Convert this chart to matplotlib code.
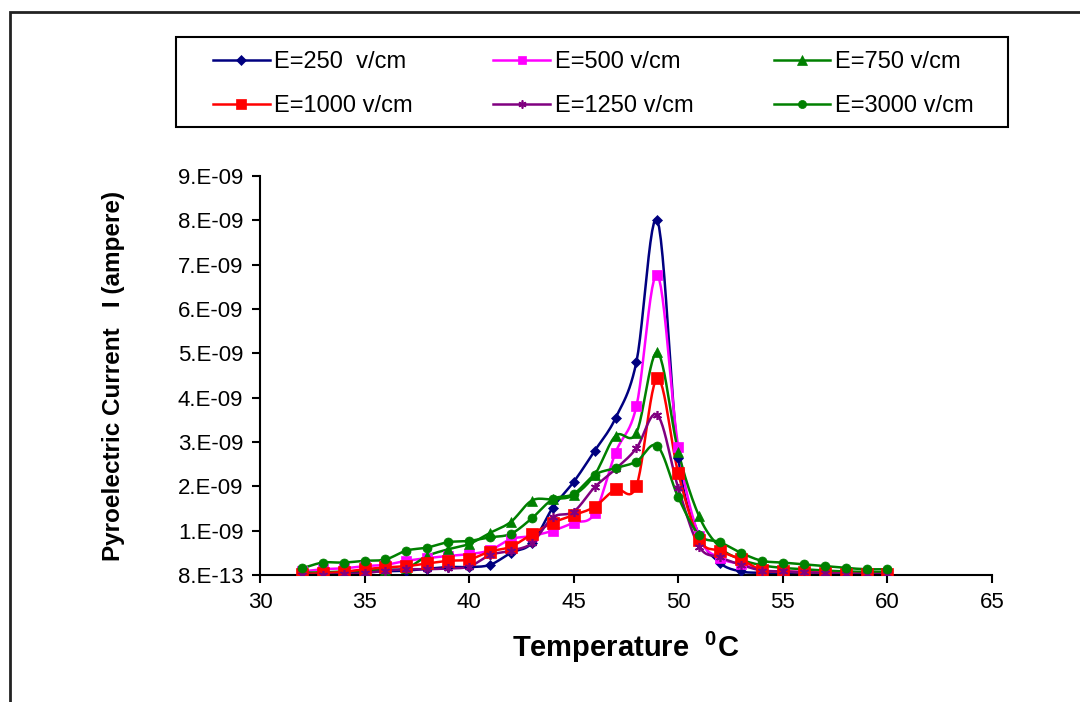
import numpy as np
import matplotlib
matplotlib.use("Agg")
import matplotlib.pyplot as plt
from matplotlib.patches import Rectangle
from matplotlib.lines import Line2D
from matplotlib.ticker import FuncFormatter, FixedLocator

plt.rcParams['font.family'] = ['Liberation Sans', 'DejaVu Sans']
plt.rcParams['mathtext.fontset'] = 'custom'
plt.rcParams['mathtext.rm'] = 'Liberation Sans'
plt.rcParams['mathtext.bf'] = 'Liberation Sans:bold'

temperature = list(range(32, 61))
labels = ["E=250  v/cm", "E=500 v/cm", "E=750 v/cm",
          "E=1000 v/cm", "E=1250 v/cm", "E=3000 v/cm"]

# currents in units of 1e-9 A
e250 = [0.02, 0.03, 0.04, 0.07, 0.08, 0.10, 0.14, 0.18, 0.18, 0.23, 0.50, 0.72, 1.52, 2.10,
        2.80, 3.54, 4.81, 8.00, 2.65, 0.90, 0.27, 0.08, 0.05, 0.04, 0.03, 0.03, 0.02, 0.02, 0.02]
e500 = [0.08, 0.13, 0.15, 0.20, 0.23, 0.32, 0.38, 0.43, 0.47, 0.56, 0.81, 0.88, 1.00, 1.18,
        1.39, 2.76, 3.81, 6.77, 2.88, 0.87, 0.38, 0.25, 0.11, 0.08, 0.07, 0.05, 0.04, 0.03, 0.02]
e750 = [0.05, 0.06, 0.08, 0.10, 0.12, 0.15, 0.43, 0.58, 0.70, 0.95, 1.20, 1.68, 1.71, 1.80,
        2.26, 3.14, 3.21, 5.02, 2.78, 1.32, 0.62, 0.35, 0.22, 0.16, 0.13, 0.10, 0.08, 0.07, 0.06]
e1000 = [0.02, 0.04, 0.07, 0.13, 0.17, 0.20, 0.26, 0.32, 0.35, 0.53, 0.64, 0.92, 1.18, 1.35,
         1.54, 1.93, 2.01, 4.44, 2.29, 0.80, 0.54, 0.35, 0.11, 0.08, 0.06, 0.05, 0.03, 0.02, 0.02]
e1250 = [0.00, 0.00, 0.02, 0.04, 0.10, 0.13, 0.13, 0.15, 0.19, 0.45, 0.55, 0.72, 1.30, 1.43,
         1.98, 2.39, 2.86, 3.61, 1.96, 0.64, 0.40, 0.23, 0.10, 0.08, 0.06, 0.04, 0.03, 0.02, 0.02]
e3000 = [0.15, 0.28, 0.28, 0.32, 0.35, 0.55, 0.62, 0.74, 0.77, 0.85, 0.93, 1.28, 1.71, 1.83,
         2.26, 2.41, 2.56, 2.91, 1.75, 0.90, 0.74, 0.50, 0.32, 0.28, 0.24, 0.20, 0.16, 0.13, 0.13]

series = [e250, e500, e750, e1000, e1250, e3000]
colors = ["#000080", "#FF00FF", "#008000", "#FF0000", "#800080", "#008000"]
markers = ["D", "s", "^", "s", (6, 2, 0), "o"]
msizes = [5.5, 6.5, 7.5, 8.5, 6.5, 6.5]

BASE = 8e-13


def smooth(x, y, n=12):
    """Catmull-Rom curve through the points (drawing style only)."""
    x = np.asarray(x, float)
    y = np.asarray(y, float)
    px = np.concatenate([[2 * x[0] - x[1]], x, [2 * x[-1] - x[-2]]])
    py = np.concatenate([[2 * y[0] - y[1]], y, [2 * y[-1] - y[-2]]])
    xs, ys = [], []
    t = np.linspace(0, 1, n, endpoint=False)
    for i in range(1, len(px) - 2):
        for arr, out in ((px, xs), (py, ys)):
            p0, p1, p2, p3 = arr[i - 1], arr[i], arr[i + 1], arr[i + 2]
            out.extend(0.5 * ((2 * p1) + (-p0 + p2) * t +
                              (2 * p0 - 5 * p1 + 4 * p2 - p3) * t ** 2 +
                              (-p0 + 3 * p1 - 3 * p2 + p3) * t ** 3))
    xs.append(x[-1])
    ys.append(y[-1])
    return np.array(xs), np.array(ys)


W, H = 1080, 702
fig = plt.figure(figsize=(W / 100, H / 100), dpi=100)

# outer chart border (extends past right/bottom edges)
fig.patches.append(Rectangle((10 / W, -0.1), 1.2, 1 - 12 / H + 0.1,
                             transform=fig.transFigure, fill=False,
                             edgecolor="#222222", linewidth=2.0))

ax = fig.add_axes([260 / W, 1 - 575 / H, (992 - 260) / W, (575 - 176) / H])

handles = []
for vals, c, m, ms, lab in zip(series, colors, markers, msizes, labels):
    yv = np.array(vals) * 1e-9 + BASE
    sx, sy = smooth(temperature, yv)
    ax.plot(sx, sy, color=c, lw=1.8, zorder=2)
    ax.plot(temperature, yv, linestyle="none", marker=m, color=c,
            markersize=ms, markeredgewidth=1.2 if m == (6, 2, 0) else 0.5,
            zorder=3)
    handles.append(Line2D([], [], color=c, lw=1.8, marker=m,
                          markersize=ms * 0.9,
                          markeredgewidth=1.2 if m == (6, 2, 0) else 0.5,
                          label=lab))

ax.set_xlim(30, 65)
ax.set_ylim(BASE, 9e-9 + BASE)
ax.xaxis.set_major_locator(FixedLocator(np.arange(30, 66, 5)))
ax.yaxis.set_major_locator(FixedLocator([BASE + k * 1e-9 for k in range(10)]))
ax.yaxis.set_major_formatter(FuncFormatter(lambda v, p: "{:#.0E}".format(v)))

for s in ("top", "right"):
    ax.spines[s].set_visible(False)
for s in ("left", "bottom"):
    ax.spines[s].set_linewidth(1.5)
ax.tick_params(axis="both", direction="out", length=6, width=1.5,
               labelsize=16, pad=6)

ax.set_xlabel(r"Temperature  $^{\mathbf{0}}$C", fontsize=21,
              fontweight="bold", labelpad=12)
ax.set_ylabel("Pyroelectric Current   I (ampere)", fontsize=17.5,
              fontweight="bold", labelpad=38)

# legend box
fig.patches.append(Rectangle((176 / W, 1 - 127 / H), (1008 - 176) / W, 90 / H,
                             transform=fig.transFigure, fill=False,
                             edgecolor="black", linewidth=1.5))
order = [0, 3, 1, 4, 2, 5]
fig.legend([handles[i] for i in order], [labels[i] for i in order],
           ncol=3, loc="upper left", bbox_to_anchor=(213 / W, 1 - 51 / H),
           frameon=False, fontsize=17, handlelength=2.4, handletextpad=0.2,
           columnspacing=3.4, labelspacing=0.95, borderpad=0, borderaxespad=0)

fig.savefig("out.png", dpi=100)
